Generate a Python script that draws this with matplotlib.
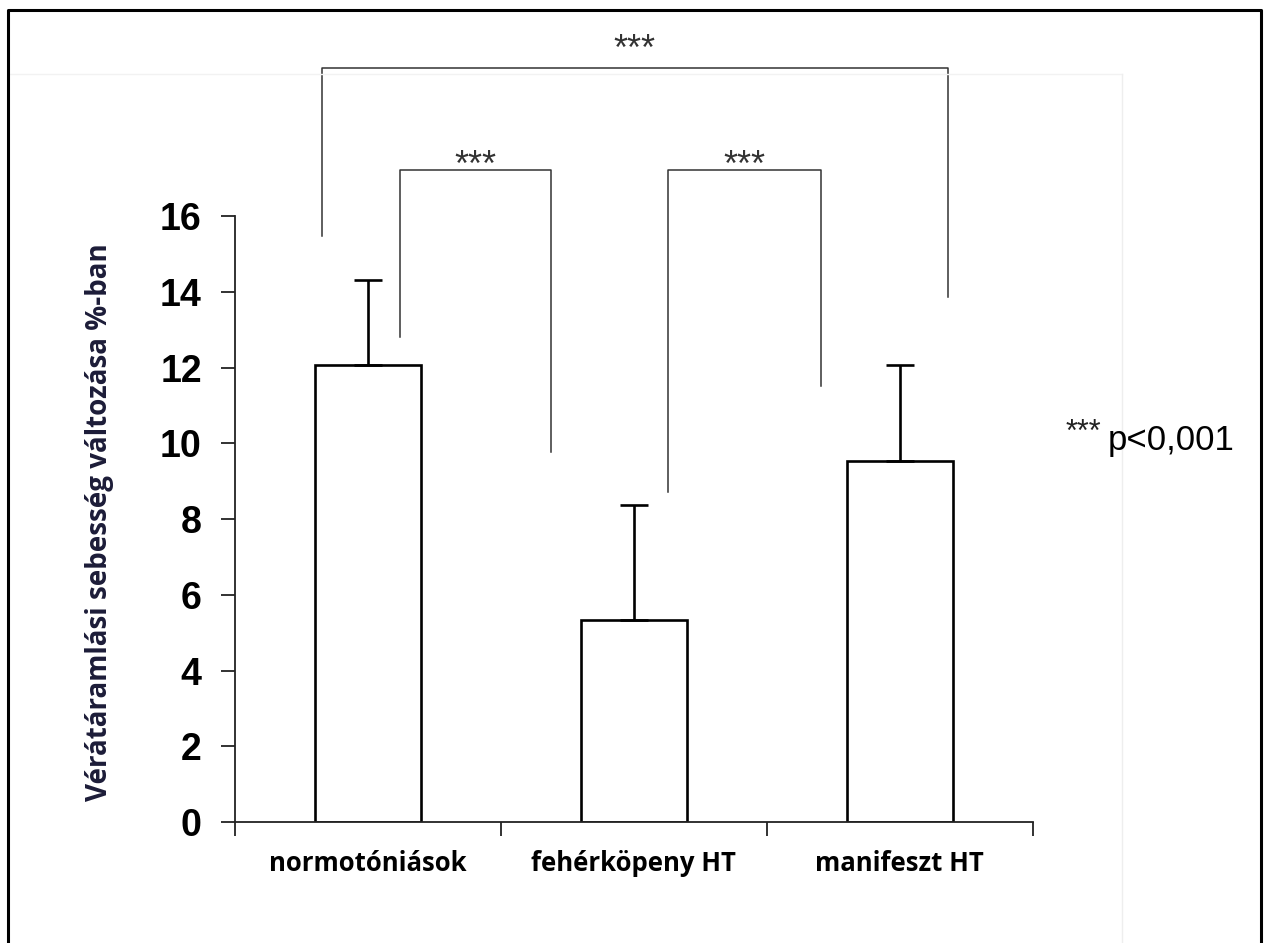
import matplotlib
matplotlib.use("Agg")
import matplotlib.pyplot as plt
from matplotlib.lines import Line2D

# adatok
categories = ["normotóniások", "fehérköpeny HT", "manifeszt HT"]
means = [12.07, 5.33, 9.53]
err_up = [2.24, 3.04, 2.54]
y_ticks = [0, 2, 4, 6, 8, 10, 12, 14, 16]

# szignifikancia jelölések: (bal x, jobb x, bal láb alja, jobb láb alja, teteje, csillag alapvonal)
brackets = [
    (-0.173, 2.180, 15.47, 13.86, 19.91, 20.12),
    (0.120, 0.688, 12.81, 9.77, 17.21, 17.06),
    (1.128, 1.703, 8.71, 11.51, 17.21, 17.06),
]
star_text = "***"

fig = plt.figure(figsize=(12.64, 9.43), dpi=100)
ax = fig.add_axes([0.186, 0.1283, 0.631, 0.6426])

x = list(range(len(categories)))
ax.bar(x, means, width=0.4, color="white", edgecolor="black", linewidth=1.9, zorder=2)
ax.errorbar(x, means, yerr=[[0] * 3, err_up], fmt="none", ecolor="black",
            elinewidth=1.9, capsize=10, capthick=1.9, zorder=3)

ax.set_xlim(-0.5, 2.5)
ax.set_ylim(0, 16)
for s in ["top", "right"]:
    ax.spines[s].set_visible(False)
for s in ["left", "bottom"]:
    ax.spines[s].set_linewidth(1.3)
    ax.spines[s].set_color("#222222")

ax.set_yticks(y_ticks)
ax.set_yticklabels([str(v) for v in y_ticks], fontsize=27, fontweight="bold",
                   family="Liberation Sans")
ax.tick_params(axis="y", direction="out", length=10, width=1.3, color="#222222", pad=14)

ax.set_xticks([-0.5, 0.5, 1.5, 2.5])
ax.set_xticklabels([])
ax.tick_params(axis="x", which="major", direction="out", length=10, width=1.3, color="#222222")
ax.set_xticks(x, minor=True)
ax.set_xticklabels(categories, minor=True, fontsize=18.5, fontweight="bold", family="Open Sans")
ax.tick_params(axis="x", which="minor", length=0, pad=20)

ax.set_ylabel("Vérátáramlási sebesség változása %-ban", fontsize=20, fontweight="bold",
              family="Open Sans", color="#1c1c38")
ax.yaxis.set_label_coords(-0.152, 0.495)

# szignifikancia zárójelek
for xl, xr, yl, yr, top, ys in brackets:
    ax.plot([xl, xl, xr, xr], [yl, top, top, yr], color="#333333", lw=1.1,
            clip_on=False, zorder=1)
    ax.text((xl + xr) / 2, ys, star_text, ha="center", va="baseline",
            fontsize=26, color="#333333", family="Liberation Sans", clip_on=False)

fig.text(0.843, 0.532, star_text, fontsize=22, color="#222222", family="Liberation Sans",
         ha="left", va="baseline")
fig.text(0.876, 0.533, "p<0,001", fontsize=25, color="black", family="Liberation Sans",
         ha="left", va="center")

# halvány beillesztési szélek
fig.add_artist(Line2D([0.006, 0.888], [0.921, 0.921], color="#f2f2f2", lw=1))
fig.add_artist(Line2D([0.888, 0.888], [0.0, 0.921], color="#eeeeee", lw=1))

# keret (felül, balra, jobbra)
fig.add_artist(Line2D([0.0066, 0.0066, 0.9975, 0.9975], [0.0, 0.9895, 0.9895, 0.0],
                      color="black", lw=2.2))

fig.savefig("out.png", dpi=100)
